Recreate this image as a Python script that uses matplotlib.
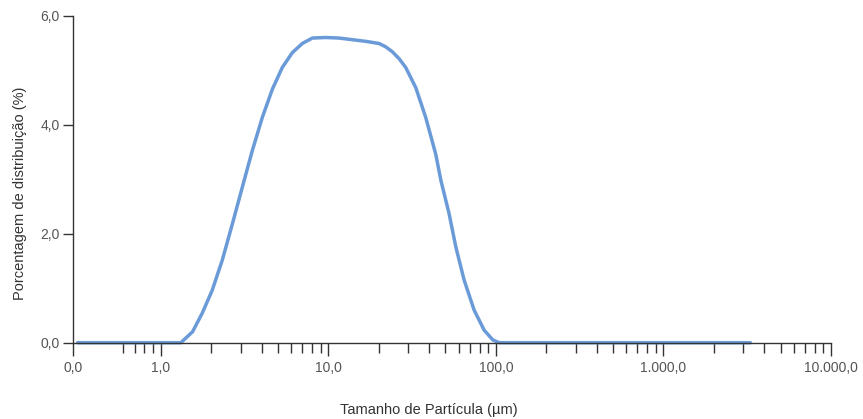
import matplotlib
matplotlib.use("Agg")
import matplotlib.pyplot as plt
from matplotlib.ticker import FixedLocator, FixedFormatter, NullFormatter

plt.rcParams['font.family'] = ['Liberation Sans', 'DejaVu Sans']

# Data
size_um = [0.32, 1.0, 1.32, 1.55, 1.77, 2.03, 2.33, 2.68, 3.07, 3.52, 4.04, 4.64,
           5.32, 6.1, 7.0, 8.04, 9.66, 11.6, 13.9, 16.7, 20.1, 22.0, 24.1, 26.5, 29.0, 33.3,
           38.2, 43.8, 47.0, 52.6, 57.7, 64.7, 74.2, 85.2, 96.0, 105.0, 1000.0, 3300.0]
percent = [0.0, 0.0, 0.0, 0.2, 0.54, 0.96, 1.51, 2.18, 2.85, 3.52, 4.13, 4.65,
           5.05, 5.32, 5.49, 5.59, 5.60, 5.59, 5.56, 5.53, 5.49, 5.43, 5.34, 5.21, 5.05, 4.68,
           4.13, 3.46, 2.98, 2.37, 1.76, 1.15, 0.6, 0.23, 0.05, 0.0, 0.0, 0.0]

x_major = [0.3, 1, 10, 100, 1000, 10000]
x_major_labels = ["0,0", "1,0", "10,0", "100,0", "1.000,0", "10.000,0"]
x_minor = [0.6, 0.7, 0.8, 0.9] + [m * 10 ** k for k in range(0, 4) for m in range(2, 10)]
y_major = [0, 2, 4, 6]
y_major_labels = ["0,0", "2,0", "4,0", "6,0"]

fig = plt.figure(figsize=(8.63, 4.19), dpi=100)
ax = fig.add_axes([73 / 863, 1 - 342.7 / 419, (831 - 73) / 863, (342.7 - 15.7) / 419])

ax.plot(size_um, percent, color="#6a9bd8", lw=2.5, solid_capstyle="round",
        solid_joinstyle="round", clip_on=False)

ax.set_xscale("log")
ax.set_xlim(0.3, 10000)
ax.set_ylim(0, 6)

ax.xaxis.set_major_locator(FixedLocator(x_major))
ax.xaxis.set_major_formatter(FixedFormatter(x_major_labels))
ax.xaxis.set_minor_locator(FixedLocator(x_minor))
ax.xaxis.set_minor_formatter(NullFormatter())
ax.yaxis.set_major_locator(FixedLocator(y_major))
ax.yaxis.set_major_formatter(FixedFormatter(y_major_labels))

for s in ["top", "right"]:
    ax.spines[s].set_visible(False)
for s in ["left", "bottom"]:
    ax.spines[s].set_color("#333333")
    ax.spines[s].set_linewidth(1.0)

ax.tick_params(axis="x", which="major", direction="out", length=9, width=1.0,
               color="#333333", labelsize=10, labelcolor="#555555", pad=4)
ax.tick_params(axis="x", which="minor", direction="out", length=7.5, width=1.0,
               color="#333333")
ax.tick_params(axis="y", which="major", direction="out", length=7.5, width=1.0,
               color="#333333", labelsize=10, labelcolor="#555555", pad=2)

ax.set_xlabel("Tamanho de Partícula (µm)", fontsize=10.5, color="#333333", labelpad=20)
ax.set_ylabel("Porcentagem de distribuição (%)", fontsize=10.5, color="#333333", labelpad=10)
ax.xaxis.label.set_x(0.469)
ax.yaxis.label.set_y(0.458)

fig.savefig("out.png", dpi=100)
